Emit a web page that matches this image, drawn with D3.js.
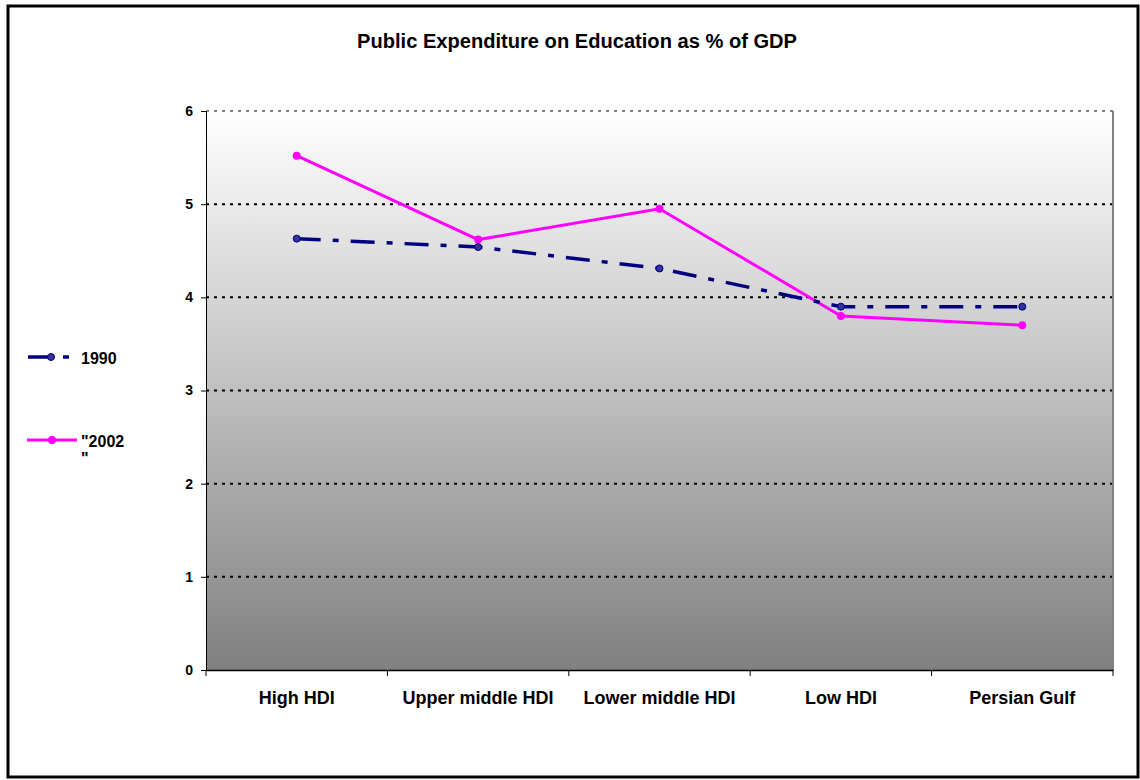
<!DOCTYPE html>
<html><head><meta charset="utf-8">
<script src="https://cdn.jsdelivr.net/npm/d3@7"></script>
<style>body{margin:0;background:#fff}svg{display:block;font-family:"Liberation Sans",Arial,sans-serif}</style>
</head><body><svg id="c" width="1140" height="780"></svg>
<script>
const categories = ["High HDI","Upper middle HDI","Lower middle HDI","Low HDI","Persian Gulf"];
const values1990 = [4.63,4.54,4.31,3.9,3.9];
const values2002 = [5.52,4.62,4.95,3.8,3.7];
const yTicks = [0,1,2,3,4,5,6];
const seriesNames = ["1990","\"2002\n\""];

const svg = d3.select("#c");
const L=206,R=1113,T=111,B=670;
const x = d3.scaleBand().domain(categories).range([L,R]);
const y = d3.scaleLinear().domain([0,6]).range([B,T]);
const FF = "Liberation Sans, Arial, sans-serif";

// outer border
svg.append("rect").attr("x",8).attr("y",6).attr("width",1130).attr("height",771)
  .attr("fill","#fff").attr("stroke","#000").attr("stroke-width",3);

const defs = svg.append("defs");
const g = defs.append("linearGradient").attr("id","bg").attr("x1",0).attr("y1",0).attr("x2",0).attr("y2",1);
g.append("stop").attr("offset","0%").attr("stop-color","#ffffff");
g.append("stop").attr("offset","100%").attr("stop-color","#808080");
svg.append("rect").attr("x",L).attr("y",T).attr("width",R-L).attr("height",B-T).attr("fill","url(#bg)");

// gridlines
svg.append("g").selectAll("line").data(yTicks.filter(d=>d>0&&d<6)).join("line")
  .attr("x1",L).attr("x2",R).attr("y1",d=>y(d)).attr("y2",d=>y(d))
  .attr("stroke","#000").attr("stroke-width",2).attr("stroke-dasharray","3,5");
svg.append("line").attr("x1",L).attr("x2",R).attr("y1",y(6)).attr("y2",y(6))
  .attr("stroke","#808080").attr("stroke-width",2).attr("stroke-dasharray","3,5");
svg.append("line").attr("x1",R).attr("x2",R).attr("y1",T).attr("y2",B)
  .attr("stroke","#808080").attr("stroke-width",2);

// y axis
const ya = svg.append("g").attr("transform",`translate(${L},0)`)
  .call(d3.axisLeft(y).tickValues(yTicks).tickFormat(d3.format("d")).tickSize(5).tickPadding(8));
ya.select(".domain").attr("stroke","#000").attr("stroke-width",1);
ya.selectAll("text").attr("font-size",14).attr("font-weight","bold").attr("font-family",FF).attr("fill","#000");

// x axis
const xa = svg.append("g").attr("transform",`translate(0,${B})`)
  .call(d3.axisBottom(x).tickSize(0).tickPadding(21));
xa.select(".domain").attr("stroke","#000").attr("stroke-width",1.5);
xa.selectAll("text").attr("font-size",18).attr("font-weight","bold").attr("font-family",FF).attr("fill","#000");
const bounds = categories.map(c=>x(c)).concat([R]);
svg.append("g").selectAll("line").data(bounds).join("line")
  .attr("x1",d=>d).attr("x2",d=>d).attr("y1",B).attr("y2",B+6).attr("stroke","#000");

const cx = d=>x(d)+x.bandwidth()/2;
const line = d3.line().x((d,i)=>cx(categories[i])).y(d=>y(d));

// 2002
svg.append("path").datum(values2002).attr("d",line).attr("fill","none").attr("stroke","#ff00ff").attr("stroke-width",3);
svg.append("g").selectAll("circle").data(values2002).join("circle")
  .attr("cx",(d,i)=>cx(categories[i])).attr("cy",d=>y(d)).attr("r",4).attr("fill","#ff00ff");
// 1990
svg.append("path").datum(values1990).attr("d",line).attr("fill","none").attr("stroke","#000080").attr("stroke-width",3.5)
  .attr("stroke-dasharray","24,12,6,12");
svg.append("g").selectAll("circle").data(values1990).join("circle")
  .attr("cx",(d,i)=>cx(categories[i])).attr("cy",d=>y(d)).attr("r",3.5).attr("fill","#333399").attr("stroke","#000080").attr("stroke-width",1);

// title
svg.append("text").attr("x",357).attr("y",48).attr("font-size",19.5).attr("font-weight","bold")
  .attr("textLength",440).attr("lengthAdjust","spacingAndGlyphs").text("Public Expenditure on Education as % of GDP");

// legend
const lg = svg.append("g");
lg.append("line").attr("x1",28).attr("x2",50).attr("y1",357).attr("y2",357).attr("stroke","#000080").attr("stroke-width",3.5);
lg.append("line").attr("x1",63).attr("x2",69).attr("y1",357).attr("y2",357).attr("stroke","#000080").attr("stroke-width",3.5);
lg.append("circle").attr("cx",51).attr("cy",357).attr("r",3.5).attr("fill","#333399").attr("stroke","#000080");
lg.append("text").attr("x",81).attr("y",364).attr("font-size",16).attr("font-weight","bold").text(seriesNames[0]);
lg.append("line").attr("x1",27).attr("x2",77).attr("y1",440).attr("y2",440).attr("stroke","#ff00ff").attr("stroke-width",3);
lg.append("circle").attr("cx",52).attr("cy",440).attr("r",4).attr("fill","#ff00ff");
const t2 = lg.append("text").attr("x",81).attr("y",447).attr("font-size",16).attr("font-weight","bold");
seriesNames[1].split("\n").forEach((s,i)=>t2.append("tspan").attr("x",81).attr("dy",i?17:0).text(s));
</script></body></html>
